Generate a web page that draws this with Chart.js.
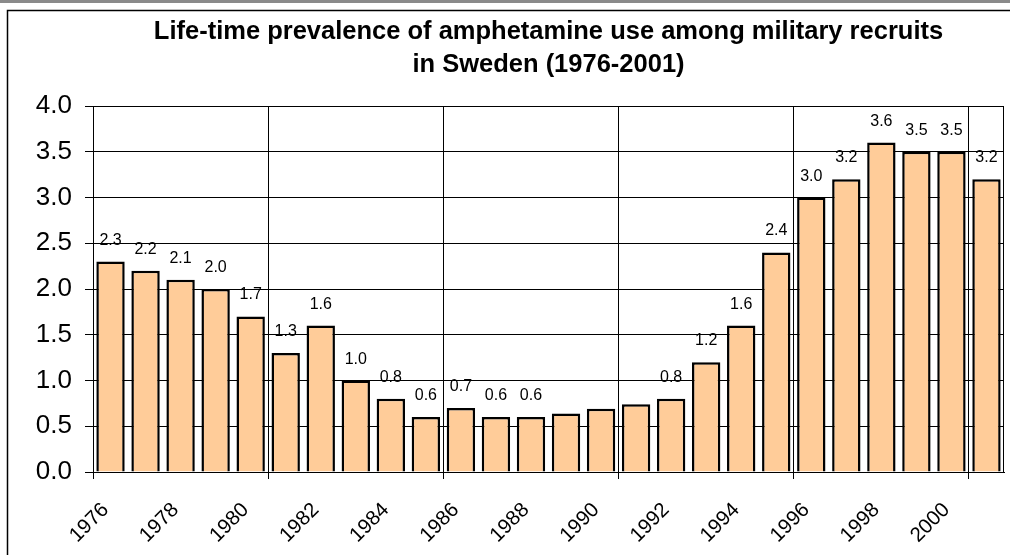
<!DOCTYPE html>
<html>
<head>
<meta charset="utf-8">
<script src="https://cdn.jsdelivr.net/npm/chart.js@4.4.1/dist/chart.umd.min.js"></script>
<style>
  html, body { margin: 0; padding: 0; background: #fff; overflow: hidden; }
  canvas { display: block; }
</style>
</head>
<body>
<canvas id="c" width="1010" height="555"></canvas>
<script>
// ---- data ----
const years = ['1976','1977','1978','1979','1980','1981','1982','1983','1984','1985','1986','1987','1988','1989','1990','1991','1992','1993','1994','1995','1996','1997','1998','1999','2000','2001'];
const prevalence = [2.3, 2.2, 2.1, 2.0, 1.7, 1.3, 1.6, 1.0, 0.8, 0.6, 0.7, 0.6, 0.6, 0.64, 0.69, 0.74, 0.8, 1.2, 1.6, 2.4, 3.0, 3.2, 3.6, 3.5, 3.5, 3.2];
const valueLabels = ['2.3','2.2','2.1','2.0','1.7','1.3','1.6','1.0','0.8','0.6','0.7','0.6','0.6','','','','0.8','1.2','1.6','2.4','3.0','3.2','3.6','3.5','3.5','3.2'];
const xTickLabels = ['1976','','1978','','1980','','1982','','1984','','1986','','1988','','1990','','1992','','1994','','1996','','1998','','2000',''];
const yTicks = [0, 0.5, 1.0, 1.5, 2.0, 2.5, 3.0, 3.5, 4.0];
const titleLines = ['Life-time prevalence of amphetamine use among military recruits', 'in Sweden (1976-2001)'];

const FONT = "'Liberation Sans', Arial, Helvetica, sans-serif";

function drawFrame(chart) {
  const ctx = chart.ctx;
  ctx.save();
  ctx.fillStyle = '#8a8a8a';
  ctx.fillRect(0, 0, chart.width, 3);
  ctx.strokeStyle = '#000';
  ctx.lineWidth = 1.5;
  ctx.beginPath();
  ctx.moveTo(7.5, chart.height);
  ctx.lineTo(7.5, 10.5);
  ctx.lineTo(chart.width, 10.5);
  ctx.stroke();
  ctx.restore();
}

const framePlugin = {
  id: 'frame',
  beforeDraw(chart) {
    const ctx = chart.ctx;
    ctx.save();
    ctx.fillStyle = '#ffffff';
    ctx.fillRect(0, 0, chart.width, chart.height);
    ctx.restore();
  },
  afterDatasetsDraw(chart) {
    const a = chart.chartArea;
    const ctx = chart.ctx;
    ctx.save();
    ctx.strokeStyle = '#000';
    ctx.lineWidth = 1;
    ctx.beginPath();
    const x = Math.round(a.right) - 0.5;
    ctx.moveTo(x, a.top);
    ctx.lineTo(x, a.bottom);
    ctx.stroke();
    ctx.restore();
  },
  afterDraw(chart) {
    drawFrame(chart);
  }
};

const labelPlugin = {
  id: 'barLabels',
  afterDatasetsDraw(chart) {
    const ctx = chart.ctx;
    const meta = chart.getDatasetMeta(0);
    ctx.save();
    ctx.font = '16px ' + FONT;
    ctx.fillStyle = '#000';
    ctx.textAlign = 'center';
    ctx.textBaseline = 'alphabetic';
    meta.data.forEach((bar, i) => {
      const t = valueLabels[i];
      if (t) ctx.fillText(t, bar.x, bar.y - 17);
    });
    ctx.restore();
  }
};

new Chart(document.getElementById('c'), {
  type: 'bar',
  data: {
    labels: years,
    datasets: [{
      data: prevalence,
      backgroundColor: '#FFCC99',
      borderColor: '#000',
      borderWidth: 2.5,
      barPercentage: 0.81,
      categoryPercentage: 1.0
    }]
  },
  options: {
    responsive: false,
    animation: false,
    devicePixelRatio: 1,
    layout: { padding: { left: 0, right: 6, top: 0, bottom: 0 } },
    plugins: {
      legend: { display: false },
      tooltip: { enabled: false },
      title: {
        display: true,
        fullSize: false,
        text: titleLines,
        color: '#000',
        font: { family: FONT, size: 25.5, weight: 'bold', lineHeight: 1.3 },
        padding: { top: 15, bottom: 24.7 }
      }
    },
    scales: {
      x: {
        type: 'category',
        offset: true,
        grid: {
          offset: true,
          drawOnChartArea: true,
          color: (c) => (c.index !== undefined && c.index % 5 === 0) ? '#000' : 'rgba(0,0,0,0)',
          lineWidth: 1,
          tickLength: 7
        },
        border: { display: true, color: '#000', width: 1 },
        ticks: {
          autoSkip: false,
          maxRotation: 45,
          minRotation: 45,
          padding: 19,
          labelOffset: -5,
          color: '#000',
          font: { family: FONT, size: 20.5 },
          callback: (v, i) => xTickLabels[i]
        },
        afterFit: (s) => { s.height = 83; s.paddingLeft = 0; s.paddingRight = 0; }
      },
      y: {
        min: 0,
        max: 4,
        afterBuildTicks: (s) => { s.ticks = yTicks.map(v => ({ value: v })); },
        grid: { color: '#000', lineWidth: 1, tickLength: 8 },
        border: { display: true, color: '#000', width: 1 },
        ticks: {
          padding: 13,
          color: '#000',
          font: { family: FONT, size: 26 },
          callback: (v) => Number(v).toFixed(1)
        },
        afterFit: (s) => { s.width = 93; s.paddingTop = 0; s.paddingBottom = 0; }
      }
    }
  },
  plugins: [framePlugin, labelPlugin]
});
</script>
</body>
</html>
